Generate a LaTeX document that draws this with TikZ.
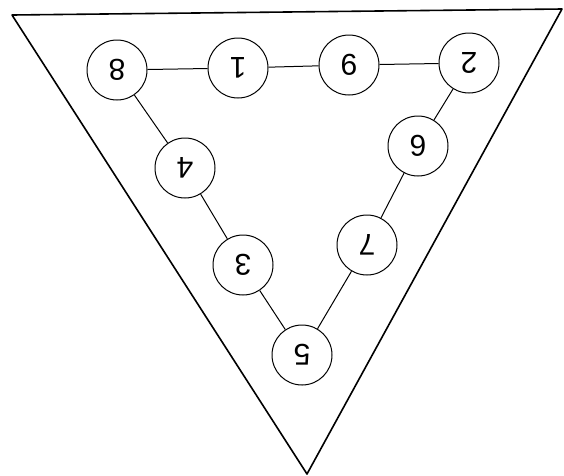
\documentclass[tikz,border=0pt]{standalone}
\usepackage{fontspec}
\setmainfont{Liberation Sans}

\begin{document}
\begin{tikzpicture}[x=1pt, y=-1pt, font=\fontsize{30}{32}\selectfont,
  num/.style={draw, circle, minimum size=60pt, inner sep=0pt, rotate=180, line width=1pt}]
  \useasboundingbox (0,0) rectangle (564,475);
  \draw[line width=1.6pt, line join=round] (12,15) -- (562,9) -- (307,474) -- cycle;

  \node[num] (c8) at (117,70) {8};
  \node[num] (c1) at (238,68) {1};
  \node[num] (c9) at (349,65) {9};
  \node[num] (c2) at (469,63) {2};
  \node[num] (c6) at (418,146) {6};
  \node[num] (c7) at (367,245) {7};
  \node[num] (c5) at (302,355) {5};
  \node[num] (c3) at (243,265) {3};
  \node[num] (c4) at (185,168) {4};

  \draw[line width=1pt] (c8) -- (c1) -- (c9) -- (c2) -- (c6) -- (c7) -- (c5) -- (c3) -- (c4) -- (c8);
\end{tikzpicture}
\end{document}
